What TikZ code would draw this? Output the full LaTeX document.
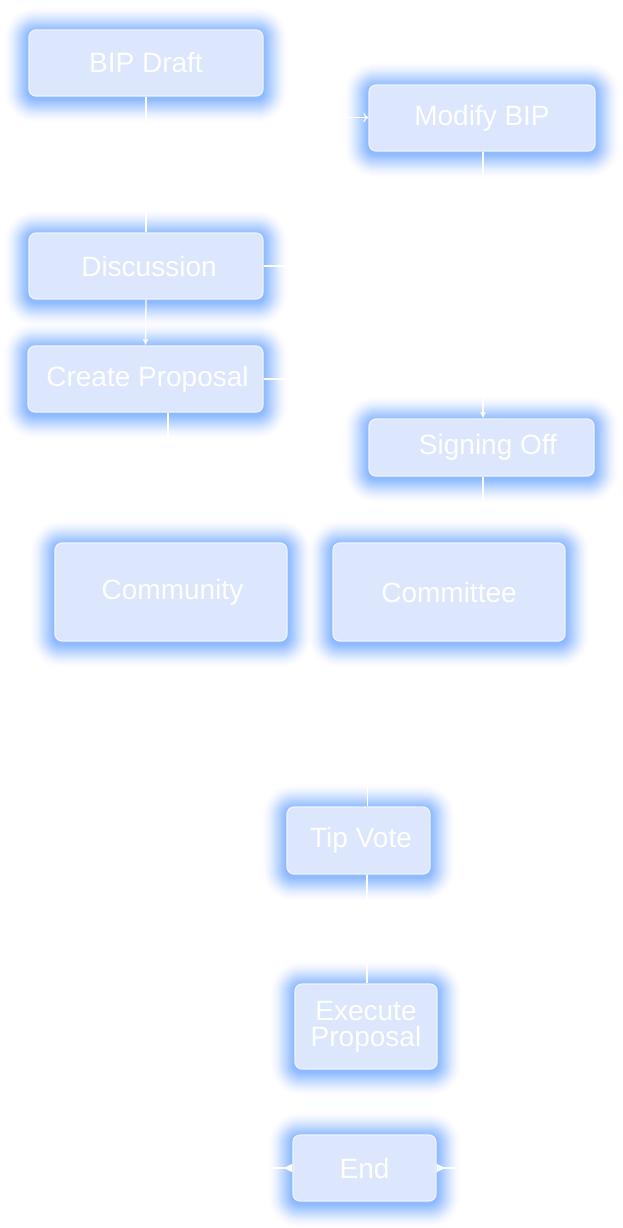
\documentclass[tikz,border=0pt]{standalone}
\usepackage{fontspec}
\setmainfont{Liberation Sans}
\usetikzlibrary{arrows.meta,backgrounds,calc}
\definecolor{boxfill}{HTML}{DCE6FD}
\definecolor{boxline}{HTML}{EEF3FF}
\definecolor{glowc}{HTML}{5CA2FF}
\pgfdeclarelayer{bottom}
\pgfsetlayers{bottom,background,main}
\newcommand{\txtdown}[1]{\raisebox{-2pt}{#1}}
\tikzset{
  box/.style={draw=boxline, line width=1.2pt, fill=boxfill, rounded corners=7pt,
    inner sep=0pt, text=white, align=center,
    font=\fontsize{28}{26}\selectfont},
  conn/.style={draw=white, line width=1.3pt},
  tipin/.style={-{Latex[length=6pt,width=6pt]}},
}
\begin{document}
\begin{tikzpicture}[x=1pt,y=-1pt]
\begin{pgfonlayer}{bottom}
\fill[white] (0,0) rectangle (623,1228);
\end{pgfonlayer}
\useasboundingbox (0,0) rectangle (623,1228);
% nodes
\node[box, minimum width=234pt, minimum height=66pt] (bip) at (146,63) {\txtdown{BIP Draft}};
\node[box, minimum width=226pt, minimum height=66pt] (mod) at (482,118) {\txtdown{Modify BIP}};
\node[box, minimum width=234pt, minimum height=66pt] (disc) at (146,266) {\txtdown{\hspace*{6pt}Discussion}};
\node[box, minimum width=235pt, minimum height=66pt] (cp) at (145.5,379) {\txtdown{\hspace*{4pt}Create Proposal}};
\node[box, minimum width=225pt, minimum height=57pt] (sign) at (481.5,447.5) {\txtdown{\hspace*{13pt}Signing Off}};
\node[box, minimum width=232pt, minimum height=98pt] (comm) at (171,592) {\txtdown{\hspace*{3pt}Community}};
\node[box, minimum width=232pt, minimum height=98pt] (cmte) at (449,592) {\txtdown{Committee}};
\node[box, minimum width=143pt, minimum height=67pt] (tip) at (358.5,840.5) {\txtdown{\hspace*{5pt}Tip Vote}};
\node[box, minimum width=142pt, minimum height=85pt] (exec) at (366,1026.5) {Execute\\Proposal};
\node[box, minimum width=143pt, minimum height=66pt] (end) at (364.5,1168) {\txtdown{End}};
% free ends
\coordinate (cpdown) at (168,440);
\coordinate (signdown) at (483,500);
\coordinate (tipup) at (367.5,780);
\coordinate (endl) at (272,1168);
\coordinate (endr) at (457,1168);
% glow
\begin{scope}[on background layer]
\foreach \n in {bip,mod,disc,cp,sign,comm,cmte,tip,exec,end}{
  \foreach \i [evaluate=\i as \d using 1.0*\i, evaluate=\i as \r using 7+1.0*\i,
               evaluate=\i as \o using 0.004+0.0032*(24-\i)] in {1,...,24}{
    \fill[glowc, opacity=\o, rounded corners=\r pt]
      ($(\n.south west)+(-\d pt,-\d pt-2pt)$) rectangle ($(\n.north east)+(\d pt,\d pt-2pt)$);
  }
}
\end{scope}
% connectors
\draw[conn] (bip.south) -- (disc.north);
\draw[conn, -{To[length=5pt,width=9pt]}] (disc.east) -- (316,266) -- (316,117.5) -- (mod.west |- 0,117.5);
\draw[conn, tipin] (disc.south) -- (cp.north);
\draw[conn, tipin] (mod.south -| 483,0) -- (sign.north -| 483,0);
\draw[conn] (cp.east) -- (cp.east -| 483,0);
\draw[conn] (cp.south -| cpdown) -- (cpdown);
\draw[conn] (sign.south -| signdown) -- (signdown);
\draw[conn] (tipup) -- (tip.north -| tipup);
\draw[conn] (tip.south -| 367,0) -- (exec.north -| 367,0);
\draw[conn, -{Latex[reversed,length=10pt,width=9pt]}] (endl) -- (end.west);
\draw[conn, -{Latex[reversed,length=10pt,width=9pt]}] (endr) -- (end.east);
\end{tikzpicture}
\end{document}
